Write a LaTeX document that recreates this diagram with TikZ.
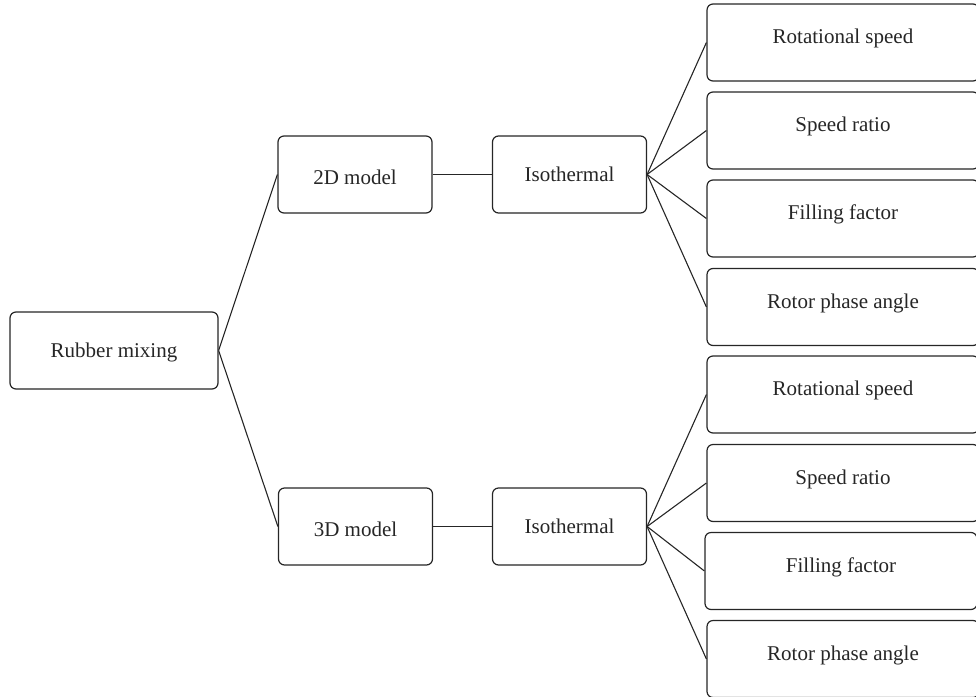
\documentclass[tikz,border=0pt]{standalone}
\usepackage{fontspec}
\setmainfont{Liberation Serif}
\definecolor{ink}{HTML}{262626}
\tikzset{
  box/.style={draw=ink, line width=1.2pt, rounded corners=6pt, fill=white,
    text=ink, font=\fontsize{21}{25}\selectfont, inner sep=0pt,
    text height=14pt, text depth=0pt},
  smallbox/.style={box, minimum width=154pt, minimum height=77pt},
  modelbox/.style={smallbox, text height=20pt, text depth=0pt},
  leafbox/.style={box, minimum width=272pt, minimum height=77pt,
    text height=8pt, text depth=6pt},
  conn/.style={draw=ink, line width=1.1pt}
}
\begin{document}
\begin{tikzpicture}[x=1pt, y=-1pt]
\useasboundingbox (0,0) rectangle (976,696);
\clip (0,0) rectangle (976,696);
% root
\node[box, minimum width=208pt, minimum height=77pt] (rm) at (114,350.5) {Rubber mixing};
% upper branch
\node[modelbox] (m2) at (355,174.5) {2D model};
\node[smallbox] (i2) at (569.5,174.5) {Isothermal};
\node[leafbox] (a1) at (843,42.5) {Rotational speed};
\node[leafbox] (a2) at (843,130.5) {Speed ratio};
\node[leafbox] (a3) at (843,218.5) {Filling factor};
\node[leafbox] (a4) at (843,307) {Rotor phase angle};
% lower branch
\node[modelbox] (m3) at (355.5,526.5) {3D model};
\node[smallbox] (i3) at (569.5,526.5) {Isothermal};
\node[leafbox] (b1) at (843,394.5) {Rotational speed};
\node[leafbox] (b2) at (843,483) {Speed ratio};
\node[leafbox] (b3) at (841,571) {Filling factor};
\node[leafbox] (b4) at (843,659) {Rotor phase angle};
% connectors
\draw[conn] (rm.east) -- (m2.west);
\draw[conn] (rm.east) -- (m3.west);
\draw[conn] (m2.east) -- (i2.west);
\draw[conn] (m3.east) -- (i3.west);
\foreach \n in {a1,a2,a3,a4} \draw[conn] (i2.east) -- (\n.west);
\foreach \n in {b1,b2,b3,b4} \draw[conn] (i3.east) -- (\n.west);
\end{tikzpicture}
\end{document}
